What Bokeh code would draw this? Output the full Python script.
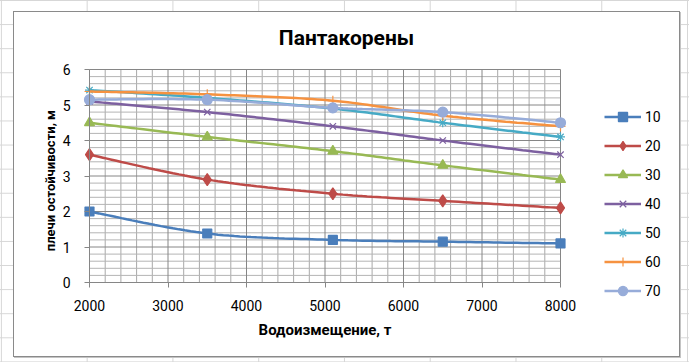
import numpy as np
from bokeh.plotting import figure
from bokeh.models import Legend, LegendItem, FixedTicker, Range1d, Label
from bokeh.embed import file_html
from bokeh.resources import INLINE

# ---- data ----
displacement = [2000, 3500, 5100, 6500, 8000]
series_labels = ["10", "20", "30", "40", "50", "60", "70"]
s10 = [2.0, 1.38, 1.2, 1.15, 1.1]
s20 = [3.6, 2.9, 2.5, 2.3, 2.1]
s30 = [4.5, 4.1, 3.7, 3.3, 2.9]
s40 = [5.1, 4.8, 4.4, 4.0, 3.6]
s50 = [5.42, 5.2, 4.9, 4.5, 4.1]
s60 = [5.38, 5.3, 5.12, 4.7, 4.4]
s70 = [5.15, 5.15, 4.92, 4.8, 4.5]
x_ticks = [2000, 3000, 4000, 5000, 6000, 7000, 8000]
y_ticks = [0, 1, 2, 3, 4, 5, 6]
title_text = "Пантакорены"
x_title = "Водоизмещение, т"
y_title = "плечи остойчивости,  м"

series_values = [s10, s20, s30, s40, s50, s60, s70]
colors = ["#4A7EBB", "#BE4B48", "#98B954", "#7D60A0", "#46AAC5", "#F69240", "#97ACD9"]
markers = ["square", "diamond", "triangle", "x", "asterisk", "cross", "circle"]
msizes = [9, 12, 10, 9, 9, 10, 10]

FONT = "Roboto"


def smooth(xs, ys, n=24):
    P = np.column_stack([xs, ys]).astype(float)
    m = len(P)
    out = [P[0]]
    ts = np.linspace(0, 1, n)[1:]
    for i in range(m - 1):
        p0 = P[max(i - 1, 0)]
        p1 = P[i]
        p2 = P[i + 1]
        p3 = P[min(i + 2, m - 1)]
        c1 = p1 + (p2 - p0) / 6.0
        c2 = p2 - (p3 - p1) / 6.0
        for t in ts:
            out.append((1 - t) ** 3 * p1 + 3 * (1 - t) ** 2 * t * c1 + 3 * (1 - t) * t ** 2 * c2 + t ** 3 * p2)
    out = np.array(out)
    return out[:, 0], out[:, 1]


# The frame covers the whole canvas; the plot area (2000..8000 x 0..6) sits at
# pixels left=89, top=69, 471 x 213, and everything else is placed around it.
W, H = 689, 362
PA_L, PA_T, PA_W, PA_H = 89, 69, 471, 213
x0, x1 = x_ticks[0], x_ticks[-1]
y0, y1 = y_ticks[0], y_ticks[-1]
kx = (x1 - x0) / PA_W
ky = (y1 - y0) / PA_H
x_range = Range1d(x0 - PA_L * kx, x0 + (W - PA_L) * kx)
y_range = Range1d(y1 - (H - PA_T) * ky, y1 + PA_T * ky)
x_mid = (x0 + x1) / 2
y_mid = (y0 + y1) / 2

p = figure(width=W, height=H, x_range=x_range, y_range=y_range,
           output_backend="svg", toolbar_location=None,
           min_border_left=0, min_border_right=0, min_border_top=0, min_border_bottom=0)
p.outline_line_color = None
p.background_fill_color = None
p.border_fill_color = None
p.xgrid.visible = False
p.ygrid.visible = False
# spreadsheet cells behind the chart, chart-area box with border and slight shadow
p.styles = {
    "background-color": "#ffffff",
    "background-image": "linear-gradient(#ffffff,#ffffff), linear-gradient(#8a8a8a,#8a8a8a), "
                        "linear-gradient(#c4c4c4,#c4c4c4), "
                        "linear-gradient(to right, #d6d6d6 1px, transparent 1px), "
                        "linear-gradient(to bottom, #d6d6d6 1px, transparent 1px)",
    "background-size": "665px 344px, 667px 346px, 667px 346px, 85.77px 24.1px, 85.77px 24.1px",
    "background-position": "14px 12px, 13px 11px, 14px 12px, 0.9px 0px, 0px 0px",
    "background-repeat": "no-repeat, no-repeat, no-repeat, repeat, repeat",
}

# gridlines of the plot area (through the data scales)
x_minor = [v for v in range(x0, x1 + 1, 200) if v not in x_ticks]
y_minor = [round(v * 0.2, 1) for v in range(0, 31) if v % 5 != 0]
p.segment(x0=x_minor, y0=[y0] * len(x_minor), x1=x_minor, y1=[y1] * len(x_minor),
          line_color="#a8a8a8", line_width=1)
p.segment(x0=[x0] * len(y_minor), y0=y_minor, x1=[x1] * len(y_minor), y1=y_minor,
          line_color="#b4b4b4", line_width=1)
p.segment(x0=x_ticks, y0=[y0] * len(x_ticks), x1=x_ticks, y1=[y1] * len(x_ticks),
          line_color="#868686", line_width=1)
p.segment(x0=[x0] * len(y_ticks), y0=y_ticks, x1=[x1] * len(y_ticks), y1=y_ticks,
          line_color="#868686", line_width=1)

xax = p.below[0]
yax = p.left[0]
xax.ticker = FixedTicker(ticks=x_ticks)
yax.ticker = FixedTicker(ticks=y_ticks)
xax.bounds = (x0, x1)
yax.bounds = (y0, y1)
xax.fixed_location = y0
yax.fixed_location = x0

for ax in (xax, yax):
    ax.axis_line_color = "#868686"
    ax.major_tick_line_color = "#868686"
    ax.minor_tick_line_color = None
    ax.major_tick_in = 0
    ax.major_tick_out = 5
    ax.major_label_text_font = FONT
    ax.major_label_text_font_size = "14px"
    ax.major_label_text_color = "#000000"
xax.major_label_standoff = 12
yax.major_label_standoff = 14

items = []
for name, ys, c, mk, ms in zip(series_labels, series_values, colors, markers, msizes):
    sx, sy = smooth(displacement, ys)
    r1 = p.line(sx, sy, line_color=c, line_width=2.5)
    r2 = p.scatter(displacement, ys, marker=mk, size=ms,
                   fill_color=c, line_color=c, line_width=1.2)
    items.append(LegendItem(label=name, renderers=[r1, r2]))

legend = Legend(items=items, location=(604, 60), border_line_color=None,
                background_fill_alpha=0, padding=0, margin=0, spacing=6,
                glyph_height=23, glyph_width=37, label_height=23, label_standoff=4,
                label_text_font=FONT, label_text_font_size="14px", label_text_color="#000000")
p.add_layout(legend)

# chart title and axis titles
p.add_layout(Label(x=x_mid, y=y1, x_offset=21.5, y_offset=31.5, text=title_text,
                   text_font=FONT, text_font_size="21px", text_font_style="bold",
                   text_color="#000000", text_align="center", text_baseline="middle"))
p.add_layout(Label(x=x_mid, y=y0, y_offset=-47, text=x_title,
                   text_font=FONT, text_font_size="15px", text_font_style="bold",
                   text_color="#000000", text_align="center", text_baseline="middle"))
p.add_layout(Label(x=x0, y=y_mid, x_offset=-39, y_offset=-3, angle=np.pi / 2, text=y_title,
                   text_font=FONT, text_font_size="13px", text_font_style="bold",
                   text_color="#000000", text_align="center", text_baseline="middle"))

open("out.html", "w").write(file_html(p, INLINE))
